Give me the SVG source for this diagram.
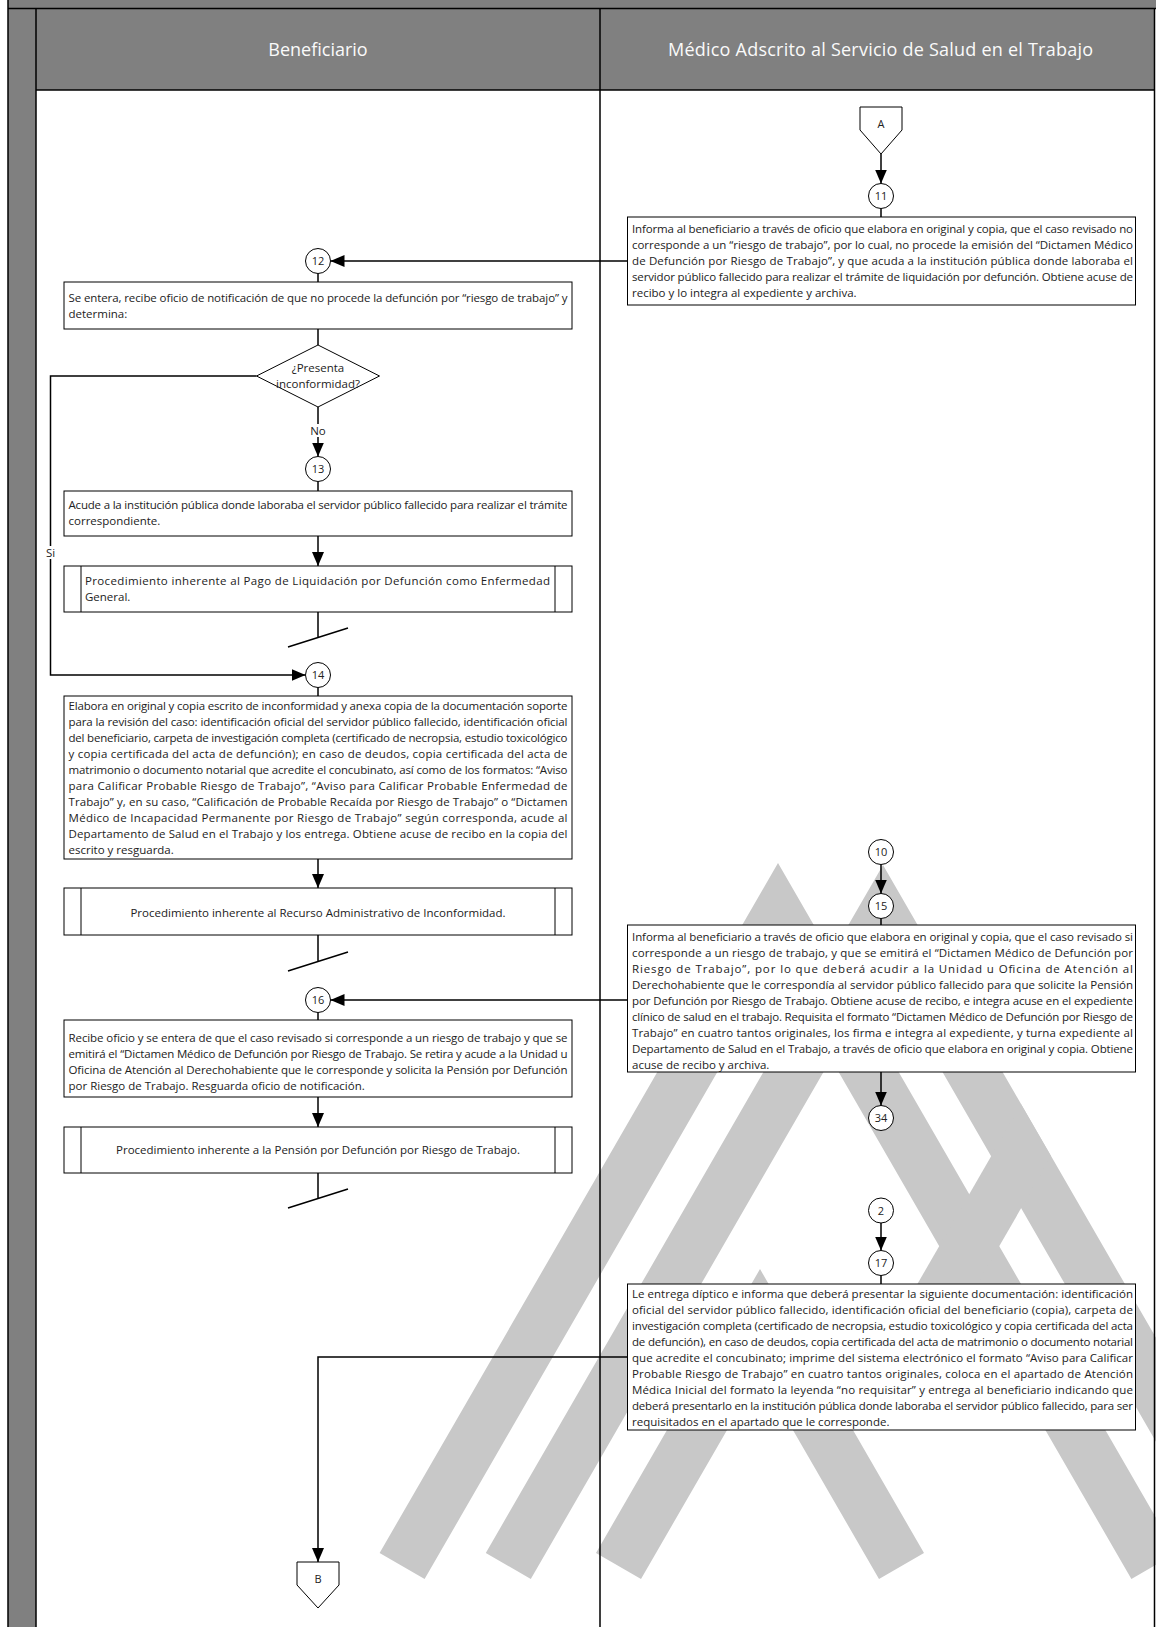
<svg xmlns="http://www.w3.org/2000/svg" width="1156" height="1627" viewBox="0 0 1156 1627">
<defs>
<marker id="arr" markerUnits="userSpaceOnUse" markerWidth="14" markerHeight="12" refX="14" refY="6" orient="auto"><path d="M0,0 L14,6 L0,12 z" fill="#000"/></marker>
<style>
.t{font-family:"Open Sans","Noto Sans","DejaVu Sans",sans-serif;font-size:11.5px;fill:#222}
.c{text-anchor:middle}
.h{font-family:"Open Sans","Noto Sans","DejaVu Sans",sans-serif;font-size:18px;fill:#fafafa;text-anchor:middle}
.n{font-family:"Open Sans","Noto Sans","DejaVu Sans",sans-serif;font-size:11px;fill:#222;text-anchor:middle}
.box{fill:#fff;stroke:#000;stroke-width:1}
.ln{fill:none;stroke:#000;stroke-width:1.5}
.ar{fill:none;stroke:#000;stroke-width:1.5;marker-end:url(#arr)}
.wm{fill:#c8c8c8}
.fr{fill:none;stroke:#000;stroke-width:1.5}
.gray{fill:#808080}
.bg{fill:#fff}
</style>
</defs>
<rect x="0" y="0" width="1156" height="1627" fill="#fff"/>
<g id="pool">
<rect class="gray" x="8" y="0" width="1148" height="8.5"/>
<rect class="gray" x="8" y="8.5" width="28" height="1619"/>
<rect class="gray" x="36" y="8.5" width="1118" height="81.5"/>
<text class="h" x="318" y="55.5">Beneficiario</text>
<text class="h" x="880.5" y="55.5" textLength="425" lengthAdjust="spacing">Médico Adscrito al Servicio de Salud en el Trabajo</text>
</g>
<g id="watermark">
<polygon class="wm" points="778,863 1176.4,1553 1131.4,1579 778,967 424.6,1579 379.6,1553"/>
<polygon class="wm" points="883,865 1280.2,1553 1235.2,1579 883,969 530.8,1579 485.8,1553"/>
<polygon class="wm" points="760,1269 924,1553 879,1579 760,1373 641,1579 596,1553"/>
<polygon class="wm" points="1021.1,1104.3 1051.1,1156.3 910.4,1400 850.4,1400"/>
</g>
<g id="lanes">
<path class="fr" d="M8,0 V1627 M8,8.5 H1156 M36,8.5 V1627 M36,90 H1154 M600,8.5 V1627 M1154.5,8.5 V1627"/>
</g>
<g id="connectors">
<path class="ar" d="M881,154 V183.5"/>
<path class="ln" d="M881,208.5 V217"/>
<path class="ar" d="M627.5,261 H330.5"/>
<path class="ln" d="M318,273.5 V282"/>
<path class="ln" d="M318,329 V345"/>
<path class="ar" d="M318,407 V456.5"/>
<path class="ar" d="M256.5,376 H50.5 V675 H305.5"/>
<path class="ln" d="M318,481.5 V491"/>
<path class="ar" d="M318,536 V566"/>
<path class="ln" d="M318,612 V637 M288,647 L348,628"/>
<path class="ln" d="M318,687.5 V696"/>
<path class="ar" d="M318,859 V888"/>
<path class="ln" d="M318,935 V961 M288,971 L348,952"/>
<path class="ar" d="M881,864.5 V893.5"/>
<path class="ln" d="M881,918.5 V925"/>
<path class="ar" d="M627.5,1000 H330.5"/>
<path class="ar" d="M881,1072 V1105.5"/>
<path class="ln" d="M318,1012.5 V1020"/>
<path class="ar" d="M318,1097 V1127"/>
<path class="ln" d="M318,1173 V1198 M288,1208 L348,1189"/>
<path class="ar" d="M881,1223 V1250.5"/>
<path class="ln" d="M881,1275.5 V1284"/>
<path class="ar" d="M627.5,1357 H318 V1562"/>
<g id="label-no"><rect class="bg" x="309" y="424" width="18" height="13"/><text class="t c" x="318" y="434.5">No</text></g>
<g id="label-si"><rect class="bg" x="44" y="546" width="13" height="13"/><text class="t c" x="50.5" y="557">Si</text></g>
</g>
<g id="conA"><polygon class="box" points="860,107 902,107 902,130 881,154 860,130"/><text class="n" x="881" y="128">A</text></g>
<g id="c11"><circle class="box" cx="881" cy="196" r="12.5"/><text class="n" x="881" y="200">11</text></g>
<g id="box11"><rect class="box" x="627.5" y="217" width="508" height="88"/>
<text class="t" x="632" y="233" textLength="501" lengthAdjust="spacing">Informa al beneficiario a través de oficio que elabora en original y copia, que el caso revisado no</text>
<text class="t" x="632" y="249" textLength="501" lengthAdjust="spacing">corresponde a un “riesgo de trabajo”, por lo cual, no procede la emisión del “Dictamen Médico</text>
<text class="t" x="632" y="265" textLength="501" lengthAdjust="spacing">de Defunción por Riesgo de Trabajo”, y que acuda a la institución pública donde laboraba el</text>
<text class="t" x="632" y="281" textLength="501" lengthAdjust="spacing">servidor público fallecido para realizar el trámite de liquidación por defunción. Obtiene acuse de</text>
<text class="t" x="632" y="297">recibo y lo integra al expediente y archiva.</text>
</g>
<g id="c12"><circle class="box" cx="318" cy="261" r="12.5"/><text class="n" x="318" y="265">12</text></g>
<g id="box12"><rect class="box" x="64" y="282" width="508" height="47"/>
<text class="t" x="68.5" y="302" textLength="499" lengthAdjust="spacing">Se entera, recibe oficio de notificación de que no procede la defunción por “riesgo de trabajo” y</text>
<text class="t" x="68.5" y="317.5">determina:</text>
</g>
<g id="dec1"><polygon class="box" points="318,345 379.5,376 318,407 256.5,376"/>
<text class="t c" x="318" y="371.5">¿Presenta</text>
<text class="t c" x="318" y="388">inconformidad?</text>
</g>
<g id="c13"><circle class="box" cx="318" cy="469" r="12.5"/><text class="n" x="318" y="473">13</text></g>
<g id="box13"><rect class="box" x="64" y="491" width="508" height="45"/>
<text class="t" x="68.5" y="509" textLength="499" lengthAdjust="spacing">Acude a la institución pública donde laboraba el servidor público fallecido para realizar el trámite</text>
<text class="t" x="68.5" y="525">correspondiente.</text>
</g>
<g id="proc1"><rect class="box" x="64" y="566" width="508" height="46"/><path class="ln" style="stroke-width:1" d="M81,566 V612 M555,566 V612"/>
<text class="t" x="85" y="585" textLength="465" lengthAdjust="spacing">Procedimiento inherente al Pago de Liquidación por Defunción como Enfermedad</text>
<text class="t" x="85" y="601">General.</text>
</g>
<g id="c14"><circle class="box" cx="318" cy="675" r="12.5"/><text class="n" x="318" y="679">14</text></g>
<g id="box14"><rect class="box" x="64" y="696" width="508" height="163"/>
<text class="t" x="68.5" y="710" textLength="499" lengthAdjust="spacing">Elabora en original y copia escrito de inconformidad y anexa copia de la documentación soporte</text>
<text class="t" x="68.5" y="726" textLength="499" lengthAdjust="spacing">para la revisión del caso: identificación oficial del servidor público fallecido, identificación oficial</text>
<text class="t" x="68.5" y="742" textLength="499" lengthAdjust="spacing">del beneficiario, carpeta de investigación completa (certificado de necropsia, estudio toxicológico</text>
<text class="t" x="68.5" y="758" textLength="499" lengthAdjust="spacing">y copia certificada del acta de defunción); en caso de deudos, copia certificada del acta de</text>
<text class="t" x="68.5" y="774" textLength="499" lengthAdjust="spacing">matrimonio o documento notarial que acredite el concubinato, así como de los formatos: “Aviso</text>
<text class="t" x="68.5" y="790" textLength="499" lengthAdjust="spacing">para Calificar Probable Riesgo de Trabajo”, “Aviso para Calificar Probable Enfermedad de</text>
<text class="t" x="68.5" y="806" textLength="499" lengthAdjust="spacing">Trabajo” y, en su caso, “Calificación de Probable Recaída por Riesgo de Trabajo” o “Dictamen</text>
<text class="t" x="68.5" y="822" textLength="499" lengthAdjust="spacing">Médico de Incapacidad Permanente por Riesgo de Trabajo” según corresponda, acude al</text>
<text class="t" x="68.5" y="838" textLength="499" lengthAdjust="spacing">Departamento de Salud en el Trabajo y los entrega. Obtiene acuse de recibo en la copia del</text>
<text class="t" x="68.5" y="854">escrito y resguarda.</text>
</g>
<g id="proc2"><rect class="box" x="64" y="888" width="508" height="47"/><path class="ln" style="stroke-width:1" d="M81,888 V935 M555,888 V935"/>
<text class="t c" x="318" y="917">Procedimiento inherente al Recurso Administrativo de Inconformidad.</text>
</g>
<g id="c10"><circle class="box" cx="881" cy="852" r="12.5"/><text class="n" x="881" y="856">10</text></g>
<g id="c15"><circle class="box" cx="881" cy="906" r="12.5"/><text class="n" x="881" y="910">15</text></g>
<g id="box15"><rect class="box" x="627.5" y="925" width="508" height="147"/>
<text class="t" x="632" y="940.5" textLength="501" lengthAdjust="spacing">Informa al beneficiario a través de oficio que elabora en original y copia, que el caso revisado si</text>
<text class="t" x="632" y="956.5" textLength="501" lengthAdjust="spacing">corresponde a un riesgo de trabajo, y que se emitirá el “Dictamen Médico de Defunción por</text>
<text class="t" x="632" y="972.5" textLength="501" lengthAdjust="spacing">Riesgo de Trabajo”, por lo que deberá acudir a la Unidad u Oficina de Atención al</text>
<text class="t" x="632" y="988.5" textLength="501" lengthAdjust="spacing">Derechohabiente que le correspondía al servidor público fallecido para que solicite la Pensión</text>
<text class="t" x="632" y="1004.5" textLength="501" lengthAdjust="spacing">por Defunción por Riesgo de Trabajo. Obtiene acuse de recibo, e integra acuse en el expediente</text>
<text class="t" x="632" y="1020.5" textLength="501" lengthAdjust="spacing">clínico de salud en el trabajo. Requisita el formato “Dictamen Médico de Defunción por Riesgo de</text>
<text class="t" x="632" y="1036.5" textLength="501" lengthAdjust="spacing">Trabajo” en cuatro tantos originales, los firma e integra al expediente, y turna expediente al</text>
<text class="t" x="632" y="1052.5" textLength="501" lengthAdjust="spacing">Departamento de Salud en el Trabajo, a través de oficio que elabora en original y copia. Obtiene</text>
<text class="t" x="632" y="1068.5">acuse de recibo y archiva.</text>
</g>
<g id="c34"><circle class="box" cx="881" cy="1118" r="12.5"/><text class="n" x="881" y="1122">34</text></g>
<g id="c16"><circle class="box" cx="318" cy="1000" r="12.5"/><text class="n" x="318" y="1004">16</text></g>
<g id="box16"><rect class="box" x="64" y="1020" width="508" height="77"/>
<text class="t" x="68.5" y="1042" textLength="499" lengthAdjust="spacing">Recibe oficio y se entera de que el caso revisado si corresponde a un riesgo de trabajo y que se</text>
<text class="t" x="68.5" y="1058" textLength="499" lengthAdjust="spacing">emitirá el “Dictamen Médico de Defunción por Riesgo de Trabajo. Se retira y acude a la Unidad u</text>
<text class="t" x="68.5" y="1074" textLength="499" lengthAdjust="spacing">Oficina de Atención al Derechohabiente que le corresponde y solicita la Pensión por Defunción</text>
<text class="t" x="68.5" y="1090">por Riesgo de Trabajo. Resguarda oficio de notificación.</text>
</g>
<g id="proc3"><rect class="box" x="64" y="1127" width="508" height="46"/><path class="ln" style="stroke-width:1" d="M81,1127 V1173 M555,1127 V1173"/>
<text class="t c" x="318" y="1154">Procedimiento inherente a la Pensión por Defunción por Riesgo de Trabajo.</text>
</g>
<g id="c2"><circle class="box" cx="881" cy="1210.5" r="12.5"/><text class="n" x="881" y="1214.5">2</text></g>
<g id="c17"><circle class="box" cx="881" cy="1263" r="12.5"/><text class="n" x="881" y="1267">17</text></g>
<g id="box17"><rect class="box" x="627.5" y="1284" width="508" height="146"/>
<text class="t" x="632" y="1298" textLength="501" lengthAdjust="spacing">Le entrega díptico e informa que deberá presentar la siguiente documentación: identificación</text>
<text class="t" x="632" y="1314" textLength="501" lengthAdjust="spacing">oficial del servidor público fallecido, identificación oficial del beneficiario (copia), carpeta de</text>
<text class="t" x="632" y="1330" textLength="501" lengthAdjust="spacing">investigación completa (certificado de necropsia, estudio toxicológico y copia certificada del acta</text>
<text class="t" x="632" y="1346" textLength="501" lengthAdjust="spacing">de defunción), en caso de deudos, copia certificada del acta de matrimonio o documento notarial</text>
<text class="t" x="632" y="1362" textLength="501" lengthAdjust="spacing">que acredite el concubinato; imprime del sistema electrónico el formato “Aviso para Calificar</text>
<text class="t" x="632" y="1378" textLength="501" lengthAdjust="spacing">Probable Riesgo de Trabajo” en cuatro tantos originales, coloca en el apartado de Atención</text>
<text class="t" x="632" y="1394" textLength="501" lengthAdjust="spacing">Médica Inicial del formato la leyenda “no requisitar” y entrega al beneficiario indicando que</text>
<text class="t" x="632" y="1410" textLength="501" lengthAdjust="spacing">deberá presentarlo en la institución pública donde laboraba el servidor público fallecido, para ser</text>
<text class="t" x="632" y="1426">requisitados en el apartado que le corresponde.</text>
</g>
<g id="conB"><polygon class="box" points="297,1562 339,1562 339,1585 318,1608 297,1585"/><text class="n" x="318" y="1583">B</text></g>
</svg>
